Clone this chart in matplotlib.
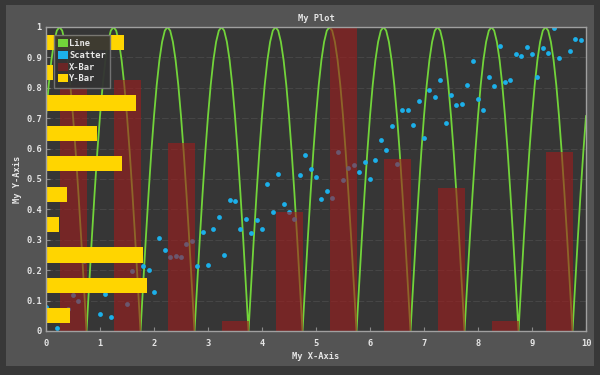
import numpy as np
import matplotlib
matplotlib.use('Agg')
import matplotlib.pyplot as plt
from matplotlib.patches import Rectangle, Patch

# data
line_x = [i * 0.05 for i in range(201)]
line_y = [
    0.707, 0.809, 0.891, 0.951, 0.988, 1.0, 0.988, 0.951, 0.891, 0.809, 0.707, 0.588, 0.454, 0.309, 0.156, 0.0, 0.156, 0.309, 0.454, 0.588,
    0.707, 0.809, 0.891, 0.951, 0.988, 1.0, 0.988, 0.951, 0.891, 0.809, 0.707, 0.588, 0.454, 0.309, 0.156, 0.0, 0.156, 0.309, 0.454, 0.588,
    0.707, 0.809, 0.891, 0.951, 0.988, 1.0, 0.988, 0.951, 0.891, 0.809, 0.707, 0.588, 0.454, 0.309, 0.156, 0.0, 0.156, 0.309, 0.454, 0.588,
    0.707, 0.809, 0.891, 0.951, 0.988, 1.0, 0.988, 0.951, 0.891, 0.809, 0.707, 0.588, 0.454, 0.309, 0.156, 0.0, 0.156, 0.309, 0.454, 0.588,
    0.707, 0.809, 0.891, 0.951, 0.988, 1.0, 0.988, 0.951, 0.891, 0.809, 0.707, 0.588, 0.454, 0.309, 0.156, 0.0, 0.156, 0.309, 0.454, 0.588,
    0.707, 0.809, 0.891, 0.951, 0.988, 1.0, 0.988, 0.951, 0.891, 0.809, 0.707, 0.588, 0.454, 0.309, 0.156, 0.0, 0.156, 0.309, 0.454, 0.588,
    0.707, 0.809, 0.891, 0.951, 0.988, 1.0, 0.988, 0.951, 0.891, 0.809, 0.707, 0.588, 0.454, 0.309, 0.156, 0.0, 0.156, 0.309, 0.454, 0.588,
    0.707, 0.809, 0.891, 0.951, 0.988, 1.0, 0.988, 0.951, 0.891, 0.809, 0.707, 0.588, 0.454, 0.309, 0.156, 0.0, 0.156, 0.309, 0.454, 0.588,
    0.707, 0.809, 0.891, 0.951, 0.988, 1.0, 0.988, 0.951, 0.891, 0.809, 0.707, 0.588, 0.454, 0.309, 0.156, 0.0, 0.156, 0.309, 0.454, 0.588,
    0.707, 0.809, 0.891, 0.951, 0.988, 1.0, 0.988, 0.951, 0.891, 0.809, 0.707, 0.588, 0.454, 0.309, 0.156, 0.0, 0.156, 0.309, 0.454, 0.588,
    0.707,
]

scatter_x = [i * 0.1 for i in range(100)]
scatter_y = [
    0.079, 0.14, 0.01, 0.16, 0.074, 0.117, 0.099, 0.23, 0.15, 0.25,
    0.055, 0.121, 0.047, 0.16, 0.24, 0.09, 0.196, 0.15, 0.214, 0.20,
    0.128, 0.306, 0.265, 0.242, 0.248, 0.243, 0.287, 0.295, 0.214, 0.326,
    0.216, 0.337, 0.375, 0.25, 0.43, 0.429, 0.337, 0.367, 0.324, 0.364,
    0.335, 0.483, 0.392, 0.515, 0.419, 0.392, 0.37, 0.512, 0.578, 0.534,
    0.506, 0.433, 0.459, 0.439, 0.589, 0.496, 0.536, 0.545, 0.523, 0.555,
    0.501, 0.564, 0.627, 0.597, 0.673, 0.548, 0.728, 0.728, 0.679, 0.758,
    0.634, 0.793, 0.77, 0.827, 0.684, 0.775, 0.745, 0.748, 0.81, 0.887,
    0.764, 0.728, 0.837, 0.805, 0.936, 0.818, 0.827, 0.911, 0.906, 0.933,
    0.912, 0.837, 0.93, 0.914, 0.996, 0.897, 1.04, 0.921, 0.962, 0.957,
]

xbar_pos = [0.5, 1.5, 2.5, 3.5, 4.5, 5.5, 6.5, 7.5, 8.5, 9.5]
xbar_val = [0.81, 0.827, 0.62, 0.032, 0.39, 1.0, 0.565, 0.47, 0.034, 0.59]

ybar_pos = [0.05, 0.15, 0.25, 0.35, 0.45, 0.55, 0.65, 0.75, 0.85, 0.95]
ybar_val = [0.45, 1.87, 1.80, 0.24, 0.38, 1.40, 0.94, 1.67, 0.135, 1.45]

x_ticks = [0, 1, 2, 3, 4, 5, 6, 7, 8, 9, 10]
y_ticks = [0, 0.1, 0.2, 0.3, 0.4, 0.5, 0.6, 0.7, 0.8, 0.9, 1.0]
y_tick_labels = ['0', '0.1', '0.2', '0.3', '0.4', '0.5', '0.6', '0.7', '0.8', '0.9', '1']

mono = 'DejaVu Sans Mono'
txt_col = '#e6e6e6'
fs = 6.3

fig = plt.figure(figsize=(6, 3.75), dpi=100, facecolor='#383838')
# lighter inner panel behind everything
panel = Rectangle((6 / 600, 9 / 375), 588 / 600, 361 / 375,
                  transform=fig.transFigure, facecolor='#545454',
                  edgecolor='none', zorder=-10)
fig.patches.append(panel)

ax = fig.add_axes([46 / 600, 44 / 375, 540 / 600, 304 / 375])
ax.set_facecolor('#363636')

ax.plot(line_x, line_y, color='#72d43a', lw=1.3, zorder=2)
ax.scatter(scatter_x, scatter_y, s=12, color='#1cb0ea', marker='o', linewidths=0, zorder=3)
ax.bar(xbar_pos, xbar_val, width=0.5, color='#a01c1c', alpha=0.6, zorder=4)
ax.barh(ybar_pos, ybar_val, height=0.05, color='#ffd500', zorder=5)

ax.set_xlim(0, 10)
ax.set_ylim(0, 1)
ax.set_xticks(x_ticks)
ax.set_xticklabels([str(t) for t in x_ticks])
ax.set_yticks(y_ticks)
ax.set_yticklabels(y_tick_labels)
ax.grid(axis='y', color='#464646', lw=0.8, linestyle='--', dashes=(6, 2), zorder=1)
ax.set_axisbelow(True)

for s in ax.spines.values():
    s.set_color('#a0a0a0')
    s.set_linewidth(1)
    s.set_zorder(6)

ax.tick_params(direction='in', length=3, color='#8a8a8a',
               labelcolor=txt_col, labelsize=fs)
ax.tick_params(axis='y', pad=3)
ax.tick_params(axis='x', pad=6)
for lab in ax.get_xticklabels() + ax.get_yticklabels():
    lab.set_family(mono)
    lab.set_fontweight('bold')

ax.set_title('My Plot', family=mono, fontweight='bold', fontsize=fs, color=txt_col, pad=4)
ax.set_xlabel('My X-Axis', family=mono, fontweight='bold', fontsize=fs, color=txt_col)
ax.set_ylabel('My Y-Axis', family=mono, fontweight='bold', fontsize=fs, color=txt_col)
ax.xaxis.set_label_coords(0.5, -0.068)
ax.yaxis.set_label_coords(-0.045, 0.5)

handles = [
    Patch(facecolor='#72d43a', label='Line'),
    Patch(facecolor='#1cb0ea', label='Scatter'),
    Patch(facecolor='#6a2626', label='X-Bar'),
    Patch(facecolor='#ffd500', label='Y-Bar'),
]
leg = ax.legend(handles=handles, loc='upper left', bbox_to_anchor=(0.0148, 0.974),
                prop={'family': mono, 'weight': 'bold', 'size': fs},
                facecolor='#333333', edgecolor='#777777', framealpha=0.95,
                handlelength=1.05, handleheight=1.05, handletextpad=0.2,
                labelspacing=0.3, borderpad=0.5, borderaxespad=0, fancybox=False)
leg.set_zorder(10)
for t in leg.get_texts():
    t.set_color(txt_col)

plt.savefig('out.png', dpi=100, facecolor=fig.get_facecolor())
